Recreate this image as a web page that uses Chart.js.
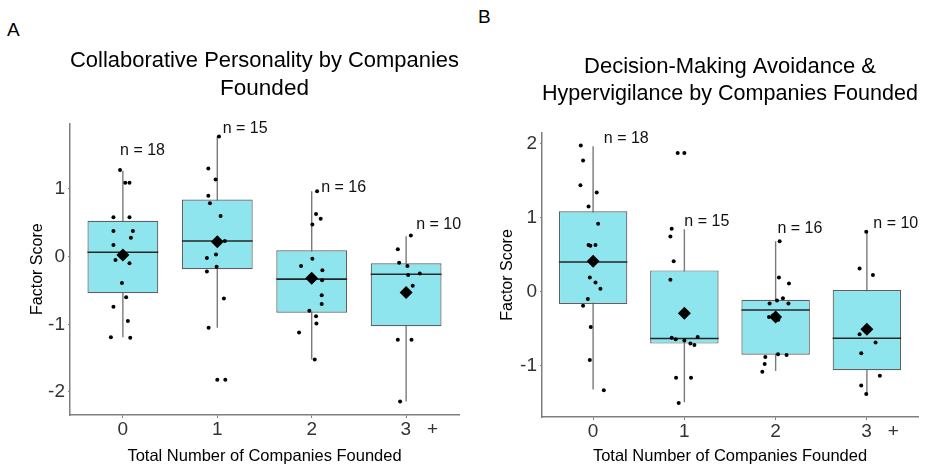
<!DOCTYPE html>
<html>
<head>
<meta charset="utf-8">
<script src="https://cdn.jsdelivr.net/npm/chart.js@4.4.1/dist/chart.umd.min.js"></script>
<style>
  html, body { margin: 0; padding: 0; background: #ffffff; }
  body { width: 936px; height: 468px; position: relative; overflow: hidden; font-family: 'Liberation Sans', Arial, sans-serif; }
  .panel { position: absolute; top: 0; width: 468px; height: 468px; }
  .letter { position: absolute; font-size: 19px; color: #000; font-family: 'Liberation Sans', Arial, sans-serif; }
</style>
</head>
<body>
<div class="letter" style="left:7px; top:19px;">A</div>
<div class="letter" style="left:478px; top:6px;">B</div>
<div class="panel" style="left:0px;"><canvas id="chartA"></canvas></div>
<div class="panel" style="left:468px;"><canvas id="chartB"></canvas></div>
<script>
// ---------- shared categories / ticks ----------
const categories = ['0', '1', '2', '3 +'];
const xTickLabels = ['0', '1', '2', '     3   +'];
const xTickValues = [0, 1, 2, 3];
const xAxisTitle = 'Total Number of Companies Founded';
const yAxisTitle = 'Factor Score';

// ---------- Panel A: Collaborative Personality ----------
const aTitle = ['Collaborative Personality by Companies', 'Founded'];
const aYTicks = [-2, -1, 0, 1];
const aYRange = [-2.34, 1.97];
const aQ1 = [-0.54, -0.186, -0.83, -1.03];
const aMedian = [0.064, 0.23, -0.333, -0.26];
const aQ3 = [0.53, 0.843, 0.093, -0.10];
const aWhiskerLow = [-1.19, -1.05, -1.52, -2.14];
const aWhiskerHigh = [1.27, 1.775, 0.966, 0.30];
const aMean = [0.025, 0.22, -0.32, -0.53];
const aN = [18, 15, 16, 10];
const aNLabelY = [1.56, 1.89, 1.02, 0.47];
const aNLabelShift = [-0.03, 0.057, 0.10, 0.106];
const aPoints0 = [1.28, 1.09, 1.09, 0.58, 0.58, 0.38, 0.38, 0.28, 0.17, 0.03, -0.05, -0.10, -0.39, -0.60, -0.74, -0.95, -1.19, -1.20];
const aJitter0 = [-0.03, 0.025, 0.07, -0.10, 0.07, -0.10, 0.106, 0.085, -0.10, 0.0, -0.078, 0.07, -0.01, 0.035, -0.10, 0.053, -0.127, 0.078];
const aPoints1 = [1.775, 1.30, 1.14, 0.90, 0.79, 0.60, 0.23, 0.03, -0.02, -0.15, -0.22, -0.62, -1.05, -1.82, -1.82];
const aJitter1 = [0.018, -0.095, -0.018, -0.095, -0.078, 0.035, 0.08, -0.014, -0.11, -0.007, -0.11, 0.07, -0.092, 0.0, 0.085];
const aPoints2 = [0.966, 0.63, 0.56, 0.475, -0.03, -0.137, -0.20, -0.32, -0.35, -0.57, -0.70, -0.80, -0.88, -0.99, -1.12, -1.52];
const aJitter2 = [0.057, 0.046, 0.095, 0.007, 0.007, -0.113, 0.113, 0.0, 0.11, 0.106, 0.106, -0.025, 0.046, 0.05, -0.134, 0.032];
const aPoints3 = [0.31, 0.11, -0.09, -0.14, -0.25, -0.27, -0.43, -1.23, -1.23, -2.14];
const aJitter3 = [0.05, -0.088, -0.074, 0.014, 0.145, 0.021, 0.07, -0.088, 0.057, -0.064];

// ---------- Panel B: Decision-Making Avoidance & Hypervigilance ----------
const bTitle = ['Decision-Making Avoidance &', 'Hypervigilance by Companies Founded'];
const bYTicks = [-1, 0, 1, 2];
const bYRange = [-1.69, 2.14];
const bQ1 = [-0.166, -0.70, -0.85, -1.058];
const bMedian = [0.40, -0.632, -0.247, -0.628];
const bQ3 = [1.085, 0.287, -0.11, 0.022];
const bWhiskerLow = [-1.32, -1.49, -1.07, -1.38];
const bWhiskerHigh = [1.96, 0.843, 0.68, 0.807];
const bMean = [0.41, -0.29, -0.34, -0.507];
const bN = [18, 15, 16, 10];
const bNLabelY = [2.06, 0.94, 0.85, 0.92];
const bNLabelShift = [0.117, 0.0, 0.02, 0.07];
const bPoints0 = [1.97, 1.77, 1.435, 1.336, 1.15, 0.915, 0.63, 0.62, 0.63, 0.41, 0.19, 0.125, 0.04, -0.10, -0.19, -0.475, -0.92, -1.33];
const bJitter0 = [-0.135, -0.11, -0.139, 0.04, -0.05, 0.055, -0.05, -0.03, 0.026, 0.0, -0.036, 0.026, 0.08, -0.058, -0.11, -0.026, -0.036, 0.117];
const bPoints1 = [1.87, 1.87, 0.85, 0.745, 0.41, 0.16, -0.62, -0.64, -0.66, -0.70, -0.72, -0.61, -1.16, -1.16, -1.50];
const bJitter1 = [-0.073, 0.0, -0.139, -0.153, -0.117, -0.153, -0.139, -0.095, 0.0, 0.066, 0.11, 0.146, -0.091, 0.073, -0.062];
const bPoints2 = [0.68, 0.19, 0.11, -0.09, -0.12, -0.16, -0.16, -0.32, -0.34, -0.36, -0.38, -0.845, -0.855, -0.88, -0.975, -1.08];
const bJitter2 = [0.044, 0.036, 0.146, 0.08, 0.015, -0.066, 0.14, -0.03, -0.073, 0.0, 0.03, 0.026, 0.12, -0.113, -0.12, -0.146];
const bPoints3 = [0.807, 0.314, 0.224, -0.50, -0.574, -0.686, -0.83, -1.135, -1.265, -1.38];
const bJitter3 = [-0.007, -0.08, 0.066, 0.0, -0.08, 0.095, -0.062, 0.142, -0.062, -0.007];

// ---------- styling ----------
const FONT = "'Liberation Sans', Arial, sans-serif";
const BOX_FILL = '#8EE5EE';
const BOX_BORDER = '#5f5f5f';
const WHISKER = '#7a7a7a';
const AXIS = '#7f7f7f';
const TICK_TEXT = '#333333';
const BOX_HALF = 0.375;

function buildPanel(canvasId, p) {
  const boxData = categories.map((c, i) => ({ x: i, y: [p.q1[i], p.q3[i]] }));
  const whiskerData = [];
  const medianData = [];
  categories.forEach((c, i) => {
    whiskerData.push({ x: i, y: p.lo[i] }, { x: i, y: p.hi[i] }, { x: i, y: null });
    medianData.push({ x: i - BOX_HALF, y: p.med[i] }, { x: i + BOX_HALF, y: p.med[i] }, { x: i, y: null });
  });
  const meanData = categories.map((c, i) => ({ x: i, y: p.mean[i] }));
  const pointData = [];
  p.points.forEach((vals, g) => {
    vals.forEach((v, k) => pointData.push({ x: g + p.jitter[g][k], y: v }));
  });

  const nLabelPlugin = {
    id: 'nLabels' + canvasId,
    afterDatasetsDraw(chart) {
      const ctx = chart.ctx, xs = chart.scales.x, ys = chart.scales.y;
      ctx.save();
      ctx.font = '16px ' + FONT;
      ctx.fillStyle = '#111';
      ctx.textAlign = 'left';
      ctx.textBaseline = 'middle';
      p.n.forEach((n, i) => {
        ctx.fillText('n = ' + n, xs.getPixelForValue(i + p.nShift[i]), ys.getPixelForValue(p.nY[i]));
      });
      ctx.restore();
    }
  };

  return new Chart(document.getElementById(canvasId), {
    type: 'bar',
    data: {
      datasets: [
        { type: 'scatter', label: 'obs', data: pointData, backgroundColor: '#000', borderColor: '#000',
          pointRadius: 2, pointHoverRadius: 2, borderWidth: 0, order: 0 },
        { type: 'scatter', label: 'mean', data: meanData, backgroundColor: '#000', borderColor: '#000',
          pointStyle: 'rectRot', pointRadius: 6.5, pointHoverRadius: 6.5, borderWidth: 0, order: 1 },
        { type: 'line', label: 'median', data: medianData, borderColor: '#262626', borderWidth: 1.6,
          pointRadius: 0, spanGaps: false, fill: false, order: 2 },
        { type: 'bar', label: 'box', data: boxData, backgroundColor: BOX_FILL, borderColor: BOX_BORDER,
          borderWidth: 1.2, borderSkipped: false, barPercentage: 0.75, categoryPercentage: 1.0, order: 3 },
        { type: 'line', label: 'whisker', data: whiskerData, borderColor: WHISKER, borderWidth: 1.4,
          pointRadius: 0, spanGaps: false, fill: false, order: 4 }
      ]
    },
    options: {
      responsive: true,
      maintainAspectRatio: false,
      animation: false,
      events: [],
      layout: { padding: { left: 0, right: p.padRight, top: 0, bottom: 0 } },
      plugins: {
        legend: { display: false },
        tooltip: { enabled: false },
        title: {
          display: true, text: p.title, color: '#000', fullSize: false,
          font: { family: FONT, size: p.titleSize, weight: 'normal', lineHeight: 1.25 },
          padding: { top: p.titleTop, bottom: p.titleBottom }
        }
      },
      scales: {
        x: {
          type: 'linear', min: -0.56, max: 3.56, offset: false,
          afterBuildTicks(scale) { scale.ticks = xTickValues.map(v => ({ value: v })); },
          afterFit(scale) { scale.height = p.xAxisHeight; },
          ticks: {
            color: TICK_TEXT, font: { family: FONT, size: 19 }, padding: 0, maxRotation: 0, autoSkip: false,
            callback: (v) => xTickLabels[xTickValues.indexOf(v)]
          },
          grid: { display: true, drawOnChartArea: false, drawTicks: true, tickLength: 3, color: AXIS, offset: false },
          border: { display: true, color: AXIS, width: 1.5 },
          title: { display: true, text: xAxisTitle, color: '#000', font: { family: FONT, size: 16.5 },
                   padding: { top: 0, bottom: 2 } }
        },
        y: {
          type: 'linear', min: p.yRange[0], max: p.yRange[1],
          afterBuildTicks(scale) { scale.ticks = p.yTicks.map(v => ({ value: v })); },
          afterFit(scale) { scale.width = p.yAxisWidth; },
          ticks: { color: TICK_TEXT, font: { family: FONT, size: 19 }, padding: 3, callback: (v) => String(v) },
          grid: { display: true, drawOnChartArea: false, drawTicks: true, tickLength: 2, color: AXIS },
          border: { display: true, color: AXIS, width: 1.5 },
          title: { display: true, text: yAxisTitle, color: '#000', font: { family: FONT, size: 16 },
                   padding: { top: p.yTitlePad, bottom: 0 } }
        }
      }
    },
    plugins: [nLabelPlugin]
  });
}

buildPanel('chartA', {
  title: aTitle, yTicks: aYTicks, yRange: aYRange,
  q1: aQ1, med: aMedian, q3: aQ3, lo: aWhiskerLow, hi: aWhiskerHigh, mean: aMean,
  n: aN, nY: aNLabelY, nShift: aNLabelShift,
  points: [aPoints0, aPoints1, aPoints2, aPoints3], jitter: [aJitter0, aJitter1, aJitter2, aJitter3],
  padRight: 9, titleTop: 47, titleBottom: 20, titleSize: 22.5, xAxisHeight: 53, yAxisWidth: 70, yTitlePad: 28
});

buildPanel('chartB', {
  title: bTitle, yTicks: bYTicks, yRange: bYRange,
  q1: bQ1, med: bMedian, q3: bQ3, lo: bWhiskerLow, hi: bWhiskerHigh, mean: bMean,
  n: bN, nY: bNLabelY, nShift: bNLabelShift,
  points: [bPoints0, bPoints1, bPoints2, bPoints3], jitter: [bJitter0, bJitter1, bJitter2, bJitter3],
  padRight: 18, titleTop: 53, titleBottom: 25, titleSize: 22, xAxisHeight: 51, yAxisWidth: 74, yTitlePad: 30
});
</script>
</body>
</html>
